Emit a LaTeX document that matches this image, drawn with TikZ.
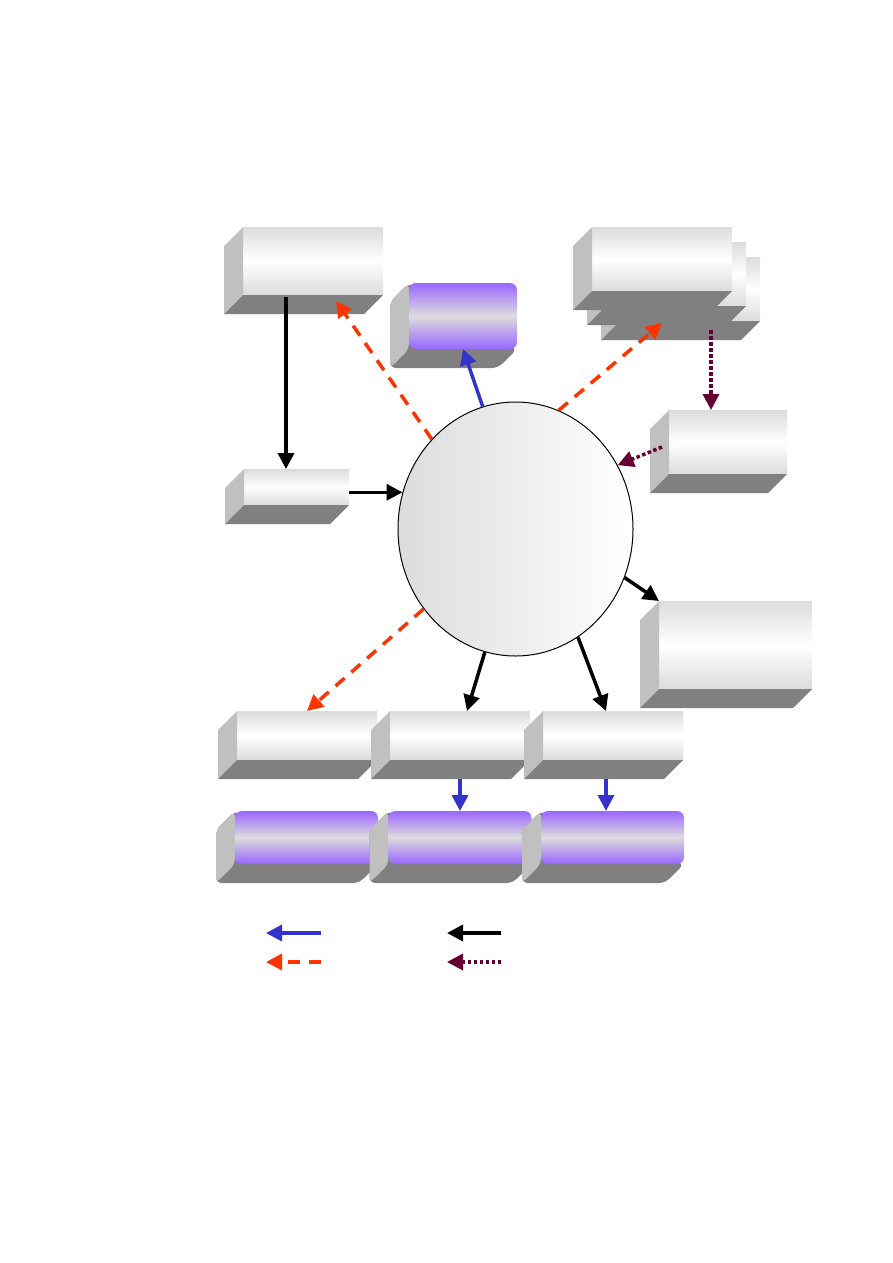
\documentclass[tikz,border=0pt]{standalone}
\usepackage{tikz}
\usetikzlibrary{arrows.meta,shapes,positioning,calc}
\usepackage{xcolor}
\definecolor{sidegray}{HTML}{C0C0C0}
\definecolor{basegray}{HTML}{808080}
\definecolor{facegray}{HTML}{DCDCDC}
\definecolor{violetface}{HTML}{9966FF}
\definecolor{arrblue}{HTML}{3333CC}
\definecolor{arrred}{HTML}{FF3300}
\definecolor{arrplum}{HTML}{660033}

\tikzset{
  front/.style={inner sep=0pt, outer sep=0pt, top color=facegray, bottom color=facegray, middle color=white},
  arr/.style={line width=3.5pt, -{Triangle[length=16pt,width=16pt]}},
  blk/.style={arr, black},
  blu/.style={arr, arrblue},
  dashline/.style={arr, arrred, dash pattern=on 12pt off 9pt},
  dotline/.style={arr, arrplum, dash pattern=on 3.5pt off 2.5pt},
}

% 灰色立体块: 名称, 中心, 宽, 高
\newcommand{\greybox}[4]{%
  \node[front, minimum width=#3pt, minimum height=#4pt] (#1) at (#2) {};
  \fill[sidegray] (#1.north west) -- ++(-19,19) -- ($(#1.south west)+(-19,19)$) -- (#1.south west) -- cycle;
  \fill[basegray] (#1.south west) -- ++(-19,19) -- ($(#1.south east)+(-19,19)$) -- (#1.south east) -- cycle;
}
% 紫色圆角块
\newcommand{\violetbox}[4]{%
  \node[inner sep=0pt, outer sep=0pt, minimum width=#3pt, minimum height=#4pt] (#1) at (#2) {};
  \fill[basegray, rounded corners=6pt] (#1.north west) -- ++(-19,19) -- ($(#1.south west)+(-19,19)$) -- ($(#1.south east)+(-19,19)$) -- (#1.south east) -- (#1.center) -- cycle;
  \fill[sidegray, rounded corners=6pt] (#1.north west) -- ++(-19,19) -- ($(#1.south west)+(-19,19)$) -- (#1.south west) -- cycle;
  \shade[top color=violetface, bottom color=violetface, middle color=facegray, rounded corners=7pt] (#1.south west) rectangle (#1.north east);
}

\begin{document}
\begin{tikzpicture}[x=1pt, y=-1pt]
    \useasboundingbox (0,0) rectangle (893,1263);
    % 上方
    \greybox{tl}{313,261}{140}{68}
    \greybox{src}{296.5,487}{105}{36}
    \violetbox{pur}{463,316}{108}{66}
    \foreach \k in {2,1,0} {
        \greybox{stk\k}{662+14*\k,259+15*\k}{140}{64}
    }
    \greybox{rm}{728,442}{118}{64}
    \greybox{big}{735.5,645}{153}{88}
    % 中心
    \node[ellipse, draw, line width=1pt, inner sep=0pt, minimum width=235pt, minimum height=254pt,
          left color=facegray, right color=white] (hub) at (515.5,529) {};
    % 下方
    \foreach \k/\x in {1/307, 2/460, 3/613} {
        \greybox{bot\k}{\x,735.5}{140}{49}
    }
    \foreach \k/\x in {1/306.5, 2/460, 3/612.5} {
        \violetbox{pb\k}{\x,837.5}{143}{53}
    }
    % 箭头
    \coordinate (drop) at ($(tl.south)+(-27,2)$);
    \draw[blk] (drop) -- (drop |- src.north);
    \draw[blk] (hub.162 -| src.east) -- (hub.162);
    \draw[dashline] (hub.133) -- ($(tl.south)+(23,6)$);
    \draw[blu] (hub.105) -- (pur.south);
    \draw[dashline] (hub.70) -- ($(stk2.south)+(-28,2)$);
    \coordinate (drip) at ($(stk2.south)+(21,9)$);
    \draw[dotline] (drip) -- (drip |- rm.north);
    \draw[dotline] ($(rm.west)+(-7,5)$) -- (hub.32);
    \draw[blk] (hub.-24) -- (big.north west);
    \draw[blk] (hub.-104) -- ($(bot2.north)+(7,0)$);
    \draw[blk] (hub.-60) -- ($(bot3.north)+(-7,0)$);
    \draw[dashline] (hub.221) -- (bot1.north);
    \draw[blu] ($(bot2.south)+(0,19)$) -- (pb2.north);
    \coordinate (feed) at ($(bot3.south)+(-7,19)$);
    \draw[blu] (feed) -- (feed |- pb3.north);
    % 图例
    \coordinate (key1) at (321,933);
    \coordinate (key2) at (501,933);
    \coordinate (key3) at (321,962);
    \coordinate (key4) at (501,962);
    \draw[blu] (key1) -- ++(-55,0);
    \draw[blk] (key2) -- ++(-54,0);
    \draw[dashline] (key3) -- ++(-55,0);
    \draw[dotline] (key4) -- ++(-54,0);
\end{tikzpicture}
\end{document}
